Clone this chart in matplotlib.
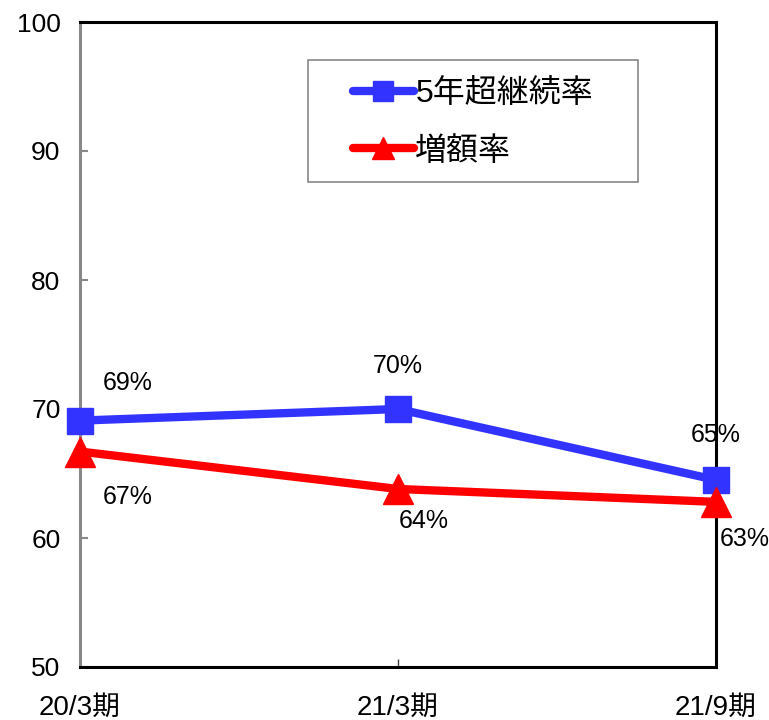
import matplotlib.pyplot as plt
import matplotlib.font_manager as fm
from matplotlib.patches import Rectangle

periods = ["20/3期", "21/3期", "21/9期"]
keizoku = [69.1, 70.0, 64.5]
zougaku = [66.7, 63.8, 62.8]
keizoku_labels = ["69%", "70%", "65%"]
zougaku_labels = ["67%", "64%", "63%"]

names = {f.name for f in fm.fontManager.ttflist}
narrow = "Liberation Sans Narrow" if "Liberation Sans Narrow" in names else "Liberation Sans"
plt.rcParams['font.family'] = [narrow, 'Noto Sans CJK JP', 'DejaVu Sans']

fig = plt.figure(figsize=(7.69, 7.2), dpi=100)
ax = fig.add_axes([80 / 769, 53 / 720, 636 / 769, 645 / 720])

x = list(range(len(periods)))
ax.plot(x, keizoku, color="#3333FF", lw=6, marker="s", ms=19,
        solid_capstyle="round", label="5年超継続率", zorder=3, clip_on=False)
ax.plot(x, zougaku, color="#FF0000", lw=6, marker="^", ms=21,
        solid_capstyle="round", label="増額率", zorder=3, clip_on=False)

ax.set_xlim(0, 2)
ax.set_ylim(50, 100)
ax.set_yticks([50, 60, 70, 80, 90, 100])
ax.set_xticks(x)
ax.set_xticklabels(periods)
ax.tick_params(axis="y", direction="in", length=6, width=1.5, color="#888888",
               labelsize=19, pad=14)
ax.tick_params(axis="x", direction="in", length=6, width=1, color="#444444",
               labelsize=20, pad=20)

for s in ["top", "right", "bottom"]:
    ax.spines[s].set_linewidth(2.2)
    ax.spines[s].set_color("black")
ax.spines["left"].set_linewidth(2.2)
ax.spines["left"].set_color("#888888")

# data labels
k_off = [(0.15, 2.9), (0.0, 3.3), (0.0, 3.5)]
z_off = [(0.15, -3.5), (0.08, -2.5), (0.09, -2.9)]
for i in x:
    ax.text(i + k_off[i][0], keizoku[i] + k_off[i][1], keizoku_labels[i],
            ha="center", va="center", fontsize=18, clip_on=False)
    ax.text(i + z_off[i][0], zougaku[i] + z_off[i][1], zougaku_labels[i],
            ha="center", va="center", fontsize=18, clip_on=False)

# legend box drawn separately so the padding can match
fig.patches.append(Rectangle((308 / 769, 1 - 182 / 720), 330 / 769, 122 / 720,
                             transform=fig.transFigure, fill=False,
                             edgecolor="#888888", lw=1.2, zorder=5))
leg = ax.legend(loc="center left", bbox_to_anchor=(353 / 769, 1 - 123 / 720),
                bbox_transform=fig.transFigure, fontsize=23, frameon=False,
                borderpad=0, handlelength=1.9, handletextpad=0.05,
                labelspacing=0.85, borderaxespad=0, markerscale=0.75)

fig.savefig("out.png", dpi=100)
